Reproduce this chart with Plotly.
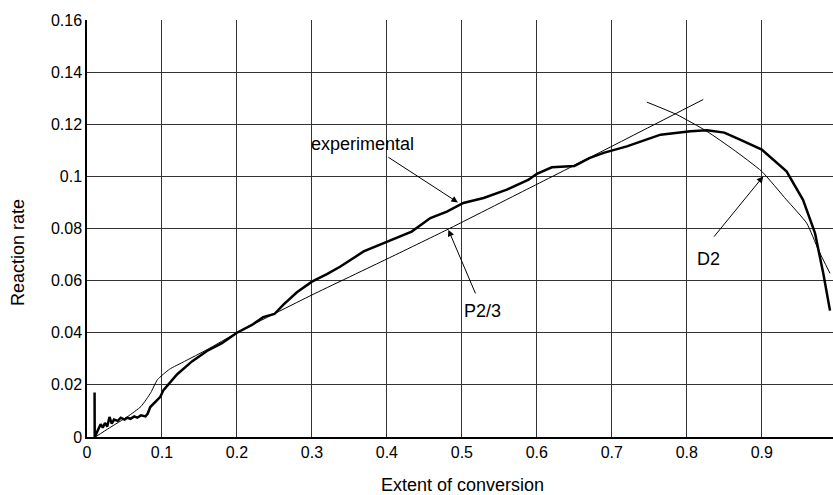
import plotly.graph_objects as go

# Experimental curve (thick)
exp_x = [0.0101, 0.0103, 0.0124, 0.0177, 0.0182, 0.021, 0.024, 0.027, 0.030, 0.033, 0.036,
         0.041, 0.045, 0.050, 0.054, 0.058, 0.063, 0.067, 0.072, 0.078, 0.081, 0.0844,
         0.091, 0.0978, 0.102, 0.111, 0.12, 0.14, 0.16, 0.18, 0.20, 0.22, 0.235, 0.25,
         0.262, 0.28, 0.30, 0.32, 0.338, 0.369, 0.40, 0.433, 0.458, 0.48, 0.502, 0.529,
         0.56, 0.589, 0.60, 0.62, 0.65, 0.67, 0.689, 0.72, 0.765, 0.805, 0.827, 0.85,
         0.871, 0.90, 0.933, 0.955, 0.971, 0.982, 0.991]
exp_y = [0.0171, 0.0, 0.0013, 0.0045, 0.0049, 0.0036, 0.0054, 0.0040, 0.0077, 0.0051, 0.0067,
         0.0062, 0.0074, 0.0067, 0.0074, 0.0070, 0.0079, 0.0074, 0.0083, 0.0079, 0.0090, 0.0115,
         0.0135, 0.0154, 0.018, 0.0212, 0.024, 0.029, 0.033, 0.036, 0.040, 0.043, 0.046, 0.0472,
         0.0508, 0.0555, 0.0596, 0.0625, 0.0654, 0.0712, 0.075, 0.0788, 0.084, 0.0865, 0.0898, 0.0917,
         0.0949, 0.0987, 0.101, 0.1035, 0.104, 0.107, 0.109, 0.1115, 0.116, 0.1173, 0.1177, 0.1168,
         0.1141, 0.1103, 0.1019, 0.091, 0.0782, 0.0628, 0.0485]

# P2/3 model (thin)
p23_x = [0.011, 0.03, 0.054, 0.072, 0.085, 0.094, 0.11, 0.13, 0.16, 0.20, 0.30, 0.40, 0.48,
         0.59, 0.684, 0.822]
p23_y = [0.0, 0.0035, 0.0078, 0.0117, 0.017, 0.022, 0.026, 0.029, 0.0335, 0.040, 0.0545,
         0.0683, 0.0795, 0.0955, 0.1092, 0.1295]

# D2 model (thin)
d2_x = [0.7467, 0.7867, 0.8267, 0.862, 0.90, 0.933, 0.96, 0.9755, 0.991]
d2_y = [0.1285, 0.1237, 0.1173, 0.1103, 0.1019, 0.091, 0.082, 0.0718, 0.0628]

FONT = "Liberation Sans, Arial, sans-serif"

fig = go.Figure()
fig.add_trace(go.Scatter(x=p23_x, y=p23_y, mode="lines", line=dict(color="black", width=1, shape="spline", smoothing=0.5),
                         showlegend=False, hoverinfo="skip"))
fig.add_trace(go.Scatter(x=d2_x, y=d2_y, mode="lines", line=dict(color="black", width=1, shape="spline", smoothing=0.5),
                         showlegend=False, hoverinfo="skip"))
fig.add_trace(go.Scatter(x=exp_x, y=exp_y, mode="lines", line=dict(color="black", width=2.5),
                         showlegend=False, hoverinfo="skip"))

ann_font = dict(family=FONT, size=18, color="black")
fig.add_annotation(x=0.4947, y=0.090, ax=0.40, ay=0.1077, xref="x", yref="y", axref="x", ayref="y",
                   text="", showarrow=True, arrowhead=2, arrowsize=1.3, arrowwidth=1, arrowcolor="black")
fig.add_annotation(x=0.367, y=0.1125, xref="x", yref="y", text="experimental", showarrow=False, font=ann_font)
fig.add_annotation(x=0.482, y=0.0795, ax=0.519, ay=0.0545, xref="x", yref="y", axref="x", ayref="y",
                   text="", showarrow=True, arrowhead=2, arrowsize=1.3, arrowwidth=1, arrowcolor="black")
fig.add_annotation(x=0.527, y=0.0483, xref="x", yref="y", text="P2/3", showarrow=False, font=ann_font)
fig.add_annotation(x=0.902, y=0.100, ax=0.8347, ay=0.0763, xref="x", yref="y", axref="x", ayref="y",
                   text="", showarrow=True, arrowhead=2, arrowsize=1.3, arrowwidth=1, arrowcolor="black")
fig.add_annotation(x=0.8287, y=0.0683, xref="x", yref="y", text="D2", showarrow=False, font=ann_font)

# Axis titles placed as paper annotations
fig.add_annotation(x=(462 - 87) / 746, y=-(485 - 437) / 417, xref="paper", yref="paper",
                   text="Extent of conversion", showarrow=False, font=dict(family=FONT, size=18),
                   xanchor="center", yanchor="middle")
fig.add_annotation(x=-(87 - 18) / 746, y=(437 - 253) / 417, xref="paper", yref="paper",
                   text="Reaction rate", textangle=-90, showarrow=False, font=dict(family=FONT, size=18),
                   xanchor="center", yanchor="middle")

fig.update_layout(
    width=833, height=495,
    margin=dict(l=87, r=0, t=20, b=58),
    plot_bgcolor="white", paper_bgcolor="white",
    font=dict(family=FONT, size=16, color="black"),
    xaxis=dict(range=[0, 0.995], dtick=0.1, tick0=0, showgrid=True, gridcolor="#333", gridwidth=1,
               showline=True, linecolor="black", linewidth=1.5, zeroline=False, ticks="",
               automargin=False, tickfont=dict(size=16)),
    yaxis=dict(range=[0, 0.16], dtick=0.02, tick0=0, showgrid=True, gridcolor="#333", gridwidth=1,
               showline=True, linecolor="black", linewidth=1.5, zeroline=False, ticks="",
               automargin=False, tickfont=dict(size=16)),
)

fig.write_html("out.html", config={"displayModeBar": False},
               post_script="document.body.style.margin='0';document.body.style.overflow='hidden';")
